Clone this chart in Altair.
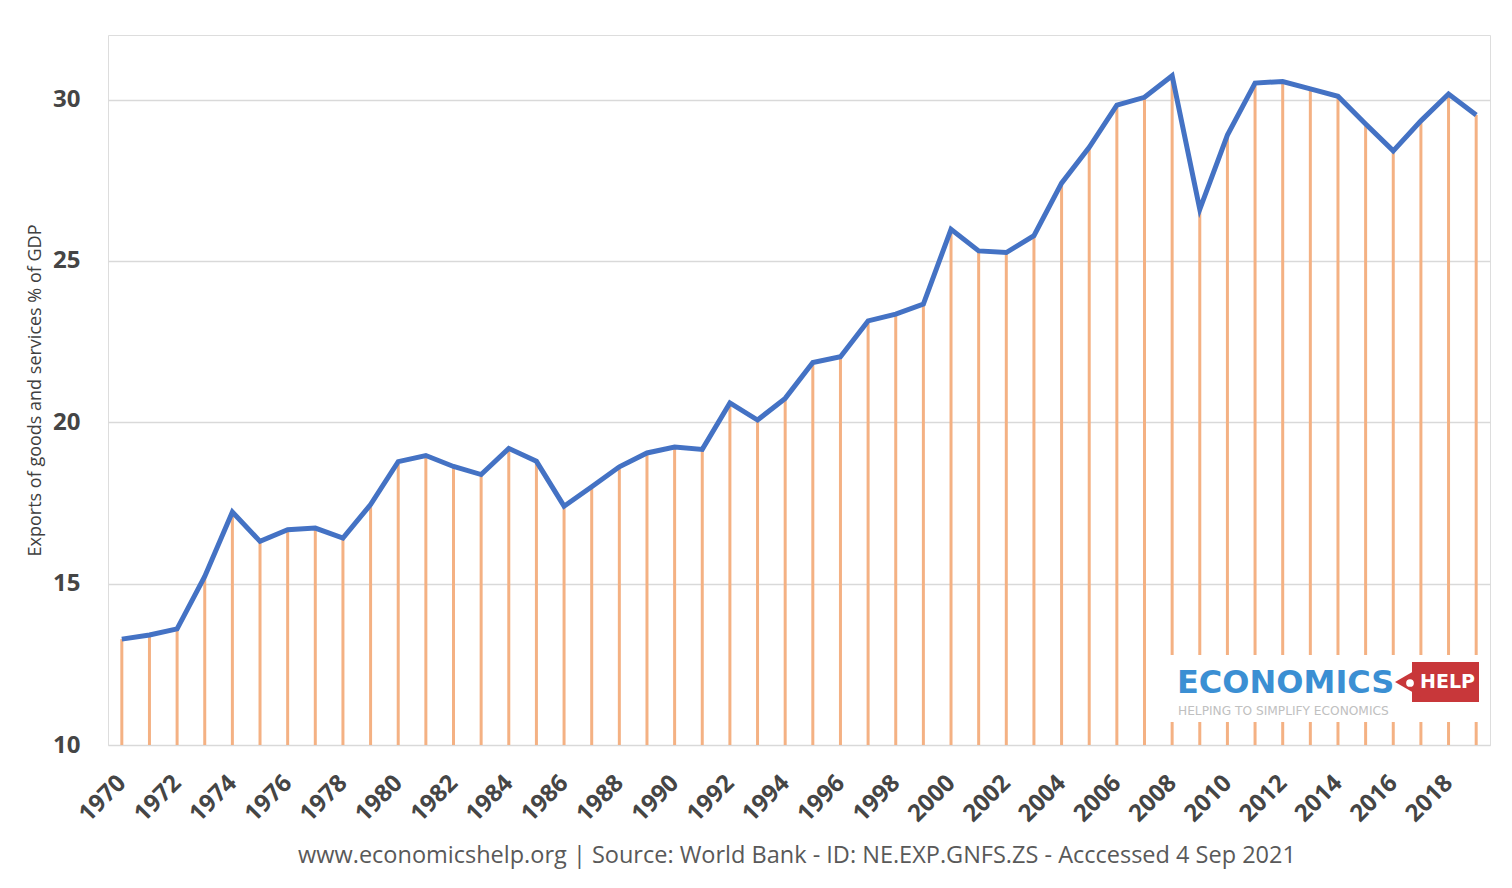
import altair as alt
import pandas as pd

years = list(range(1970, 2020))
exports = [13.28, 13.41, 13.60, 15.22, 17.22, 16.31, 16.67, 16.72, 16.41, 17.45,
           18.78, 18.97, 18.63, 18.38, 19.19, 18.79, 17.40, 18.00, 18.62, 19.05,
           19.23, 19.16, 20.60, 20.07, 20.74, 21.85, 22.03, 23.14, 23.35, 23.66,
           25.98, 25.31, 25.26, 25.78, 27.41, 28.52, 29.83, 30.07, 30.74, 26.60,
           28.90, 30.51, 30.56, 30.33, 30.10, 29.24, 28.41, 29.34, 30.17, 29.52]
label_years = list(range(1970, 2020, 2))
y_ticks = [10, 15, 20, 25, 30]

df = pd.DataFrame({"year": years, "value": exports})

W, H = 1382, 710

xs = alt.Scale(type="point", padding=0.5)
ys = alt.Scale(domain=[10, 32], nice=False, zero=False)

x_enc = alt.X("year:O", scale=xs, title=None,
              axis=alt.Axis(values=label_years, labelAngle=-45, labelAlign="right",
                            labelBaseline="middle", labelFontSize=24, labelFontWeight="bold",
                            labelColor="#454545", labelFont="Open Sans", ticks=False,
                            domain=False, labelPadding=34, grid=False))
y_enc = alt.Y("value:Q", scale=ys,
              title="Exports of goods and services % of GDP",
              axis=alt.Axis(values=y_ticks, labelFontSize=24, labelFontWeight="bold",
                            labelColor="#454545", labelFont="Open Sans", ticks=False,
                            domain=False, labelPadding=28, gridColor="#d9d9d9",
                            gridWidth=1.5, titleFont="Open Sans", titleFontSize=18,
                            titleFontWeight="normal", titleColor="#404040",
                            titleX=-73, titleY=355, titleAngle=-90, titleAlign="center",
                            titleBaseline="middle"))

base = alt.Chart(df)

drops = base.mark_rule(color="#F4B183", strokeWidth=3).encode(
    x=x_enc, y=y_enc, y2=alt.datum(10))

line = base.mark_line(color="#4472C4", strokeWidth=5, strokeJoin="miter").encode(
    x=x_enc, y=y_enc)

one = pd.DataFrame({"k": [0]})
ob = alt.Chart(one)

logo_bg = ob.mark_rect(color="white").encode(
    x=alt.value(1168 - 108), x2=alt.value(1488 - 108),
    y=alt.value(655 - 35), y2=alt.value(722 - 35))
logo_text = ob.mark_text(text="ECONOMICS", font="DejaVu Sans", fontWeight="bold",
                         fontSize=32, color="#3B8FD3", align="left", baseline="middle").encode(
    x=alt.value(1177 - 108), y=alt.value(683 - 35))
logo_sub = ob.mark_text(text="HELPING TO SIMPLIFY ECONOMICS", font="DejaVu Sans",
                        fontSize=12.2, color="#c0c0c0", align="left", baseline="middle").encode(
    x=alt.value(1178 - 108), y=alt.value(711 - 35))
tag_rect = ob.mark_rect(color="#C8373A").encode(
    x=alt.value(1412 - 108), x2=alt.value(1479 - 108),
    y=alt.value(662 - 35), y2=alt.value(702 - 35))
tag_tip = ob.mark_point(shape="triangle-left", filled=True, color="#C8373A", size=900, opacity=1).encode(
    x=alt.value(1408 - 108), y=alt.value(682 - 35))
tag_dot = ob.mark_circle(color="white", size=60, opacity=1).encode(
    x=alt.value(1410 - 108), y=alt.value(683 - 35))
tag_text = ob.mark_text(text="HELP", font="DejaVu Sans", fontWeight="bold", fontSize=19,
                        color="white", align="left", baseline="middle").encode(
    x=alt.value(1420 - 108), y=alt.value(682 - 35))

footer = ob.mark_text(text="www.economicshelp.org  | Source: World Bank - ID: NE.EXP.GNFS.ZS - Acccessed 4 Sep 2021",
                      font="Open Sans", fontSize=23.5, color="#595959", align="center",
                      baseline="middle").encode(
    x=alt.value(797 - 108), y=alt.value(856 - 35))

chart = alt.layer(drops, line, logo_bg, logo_text, logo_sub, tag_rect, tag_tip, tag_dot,
                  tag_text, footer).properties(
    width=W, height=H,
    autosize=alt.AutoSizeParams(type="none"),
    padding={"left": 100, "top": 27, "right": 14, "bottom": 140},
).configure_view(stroke="#f0f0f0", strokeWidth=1.5).configure(background="white")

chart.save("out.html", embed_options={"renderer": "svg", "actions": False})
